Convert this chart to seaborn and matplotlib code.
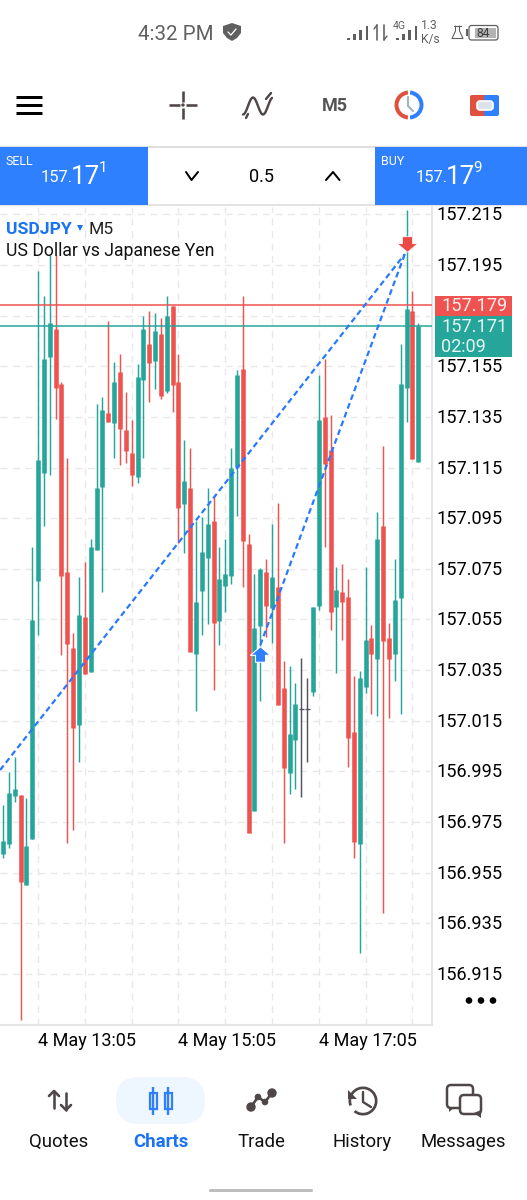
"""
USDJPY M5 candlestick chart, drawn inside a copy of the phone app screen.
"""

import matplotlib

matplotlib.use("Agg")

import matplotlib.pyplot as plt
import numpy as np
import pandas as pd
import seaborn as sns
from matplotlib.patches import Circle, FancyBboxPatch, Polygon, Rectangle, Wedge
from matplotlib.path import Path
from matplotlib.transforms import ScaledTranslation

GREEN = "#26A69A"
RED = "#EF5350"
BLUE = "#2F80FF"
DOJI = "#555560"
GRID = "#E8E8E8"
ICON = "#4F4747"

open_prices = [
    156.9622, 156.9663, 156.9854, 156.9856, 156.9500, 156.9683, 157.0703, 157.1127, 157.1585,
    157.1698, 157.1480, 157.0736, 157.0436, 157.0133, 157.0558, 157.0341, 157.0824, 157.1074,
    157.1367, 157.1325, 157.1527, 157.1298, 157.1206, 157.1114, 157.1495, 157.1637, 157.1572,
    157.1679, 157.1453, 157.1788, 157.1488, 157.1005, 157.1068, 157.0413, 157.0663, 157.0794,
    157.0939, 157.0545, 157.0682, 157.0722, 157.1153, 157.1538, 157.0847, 156.9793, 157.0524,
    157.0736, 157.0594, 157.0677, 157.0278, 156.9945, 157.0074, 157.0196, 157.0196, 157.0265,
    157.0603, 157.1348, 157.1219, 157.0600, 157.0657, 157.0640, 157.0105, 156.9662, 157.0282,
    157.0475, 157.0394, 157.0919, 157.0475, 157.0413, 157.0633, 157.1463, 157.1768, 157.1173,
]
high_prices = [
    156.9817, 156.9947, 157.0008, 156.9856, 156.9846, 157.0837, 157.1927, 157.1829, 157.1990,
    157.1990, 157.1488, 157.1186, 157.0495, 157.0716, 157.0778, 157.0867, 157.1400, 157.1427,
    157.1729, 157.1568, 157.1598, 157.1447, 157.1338, 157.1558, 157.1747, 157.1768, 157.1759,
    157.1739, 157.1829, 157.1789, 157.1598, 157.1258, 157.1227, 157.0940, 157.0956, 157.1068,
    157.1038, 157.0837, 157.0867, 157.1227, 157.1535, 157.1829, 157.0886, 157.0728, 157.0753,
    157.0788, 157.0927, 157.1009, 157.0386, 157.0366, 157.0298, 157.0399, 157.0317, 157.0598,
    157.1517, 157.1578, 157.1357, 157.0756, 157.0769, 157.0709, 157.0327, 157.0346, 157.0756,
    157.0528, 157.0976, 157.1235, 157.0537, 157.0788, 157.1638, 157.2167, 157.1848, 157.1720,
]
low_prices = [
    156.9609, 156.9648, 156.9828, 156.8968, 156.9500, 156.9683, 157.0488, 157.0920, 157.1119,
    157.1341, 157.0409, 156.9668, 156.9718, 156.9988, 157.0333, 157.0341, 157.0824, 157.0660,
    157.1331, 157.1189, 157.1160, 157.1169, 157.1078, 157.1090, 157.1189, 157.1408, 157.1460,
    157.1420, 157.1446, 157.1368, 157.0851, 157.0811, 157.0423, 157.0189, 157.0488, 157.0531,
    157.0271, 157.0449, 157.0578, 157.0689, 157.0960, 157.0679, 156.9705, 156.9793, 157.0229,
    157.0479, 157.0458, 157.0212, 156.9668, 156.9859, 156.9879, 156.9847, 156.9988, 157.0249,
    157.0587, 157.0837, 157.0508, 157.0340, 157.0469, 156.9968, 156.9609, 156.9231, 157.0258,
    157.0176, 157.0169, 156.9389, 157.0159, 157.0308, 157.0176, 157.1331, 157.1183, 157.1173,
]
close_prices = [
    156.9676, 156.9866, 156.9879, 156.9513, 156.9655, 157.0548, 157.1180, 157.1578, 157.1720,
    157.1463, 157.0723, 157.0452, 157.0122, 157.0566, 157.0333, 157.0837, 157.1068, 157.1377,
    157.1331, 157.1488, 157.1303, 157.1215, 157.1120, 157.1508, 157.1698, 157.1564, 157.1688,
    157.1434, 157.1747, 157.1475, 157.0991, 157.1097, 157.0423, 157.0618, 157.0816, 157.0927,
    157.0535, 157.0709, 157.0728, 157.1147, 157.1517, 157.0861, 156.9705, 157.0515, 157.0748,
    157.0603, 157.0716, 157.0212, 156.9964, 157.0096, 157.0215, 157.0196, 157.0196, 157.0598,
    157.1338, 157.1163, 157.0581, 157.0666, 157.0620, 157.0083, 156.9672, 157.0317, 157.0469,
    157.0413, 157.0867, 157.0465, 157.0394, 157.0627, 157.1480, 157.1776, 157.1183, 157.1709,
]

price_ticks = [round(157.215 - 0.02 * k, 3) for k in range(16)]
hidden_tick = 157.175  # sits under the bid and ask boxes
time_grid = [6, 14, 22, 30, 38, 46, 54, 62, 70]
time_labels = {6: "4 May 13:05", 30: "4 May 15:05", 54: "4 May 17:05"}

ask_price = 157.179
bid_price = 157.171

trend_x = [-0.5, 68.7]
trend_y = [156.9955, 157.1993]
trade_x = [44.0, 68.7]
trade_y = [157.0449, 157.1993]
buy_arrow = (44, 157.0415)
sell_arrow = (69, 157.2031)


sns.set_theme(style="white")
plt.rcParams["font.family"] = ["Roboto", "DejaVu Sans"]

fig = plt.figure(figsize=(5.27, 12), dpi=100)
ax = fig.add_axes([0, 1 - 1024.5 / 1200, 432 / 527, (1024.5 - 207) / 1200])

candles = pd.DataFrame(
    {"i": np.arange(len(open_prices)), "open": open_prices, "high": high_prices,
     "low": low_prices, "close": close_prices}
)
candles["dir"] = np.where(
    candles["close"] > candles["open"], "up",
    np.where(candles["close"] < candles["open"], "down", "flat"),
)
palette = {"up": GREEN, "down": RED, "flat": DOJI}

wicks = candles.melt(id_vars=["i", "dir"], value_vars=["high", "low"], value_name="price")
bodies = candles[candles["dir"] != "flat"].melt(
    id_vars=["i", "dir"], value_vars=["open", "close"], value_name="price"
)

sns.lineplot(
    data=wicks, x="i", y="price", hue="dir", units="i", estimator=None, sort=False,
    palette=palette, legend=False, ax=ax, linewidth=1.05, solid_capstyle="butt", zorder=2,
)
sns.lineplot(
    data=bodies, x="i", y="price", hue="dir", units="i", estimator=None, sort=False,
    palette=palette, legend=False, ax=ax, linewidth=3.3, solid_capstyle="butt", zorder=3,
)

# open = close candles only get a short tick
for _, row in candles[candles["dir"] == "flat"].iterrows():
    sns.lineplot(
        x=[row["i"] - 0.42, row["i"] + 0.42], y=[row["open"], row["open"]], color=DOJI,
        ax=ax, linewidth=1.0, estimator=None, sort=False, zorder=3, solid_capstyle="butt",
    )

ax.axhline(ask_price, color=RED, linewidth=1.1, zorder=4)
ax.axhline(bid_price, color=GREEN, linewidth=1.1, zorder=4)

for xs, ys in [(trend_x, trend_y), (trade_x, trade_y)]:
    sns.lineplot(
        x=xs, y=ys, color="#2979FF", ax=ax, linewidth=1.6, linestyle=(0, (2.6, 1.6)),
        estimator=None, sort=False, zorder=5,
    )

up_marker = Path([(0, -0.77), (1, 0.08), (0.5, 0.08), (0.5, 0.77), (-0.5, 0.77), (-0.5, 0.08),
                  (-1, 0.08), (0, -0.77)], closed=True)
down_marker = Path([(0, 0.77), (1, -0.08), (0.5, -0.08), (0.5, -0.77), (-0.5, -0.77),
                    (-0.5, -0.08), (-1, -0.08), (0, 0.77)], closed=True)
# marker paths are y-up, so the arrow pointing up needs the tip at +y
sns.scatterplot(x=[buy_arrow[0]], y=[buy_arrow[1]], marker=down_marker, s=210, color="#2F80FF",
                edgecolor="white", linewidth=0.8, ax=ax, zorder=6, legend=False)
sns.scatterplot(x=[sell_arrow[0]], y=[sell_arrow[1]], marker=up_marker, s=210, color="#EB4A47",
                edgecolor="white", linewidth=0.5, ax=ax, zorder=6, legend=False)

ax.set_xlim(-0.513, 73.35)
ax.set_ylim(156.8950, 157.2179)
ax.set_xlabel("")
ax.set_ylabel("")

ax.yaxis.tick_right()
ax.set_yticks(price_ticks)
ax.set_yticklabels(["" if t == hidden_tick else f"{t:.3f}" for t in price_ticks])
ax.tick_params(axis="y", length=0, pad=3, labelsize=13.1, labelcolor="black")
ax.set_xticks(time_grid)
ax.set_xticklabels([time_labels.get(t, "") for t in time_grid], ha="left")
ax.tick_params(axis="x", length=3, width=1, color=GRID, pad=2.5, labelsize=13, labelcolor="black")
lift = ScaledTranslation(0, 1 / 100, fig.dpi_scale_trans)
for tick_label in ax.get_yticklabels():
    tick_label.set_transform(tick_label.get_transform() + lift)

ax.grid(True, color=GRID, linewidth=1.0, linestyle=(0, (5, 4)))
ax.set_axisbelow(True)
for name in ["top", "left"]:
    ax.spines[name].set_visible(False)
for name in ["right", "bottom"]:
    ax.spines[name].set_color("#E6E6E6")
    ax.spines[name].set_linewidth(1.5)

# screen furniture, laid out in image pixels
ui = fig.add_axes([0, 0, 1, 1], zorder=10)
ui.set_xlim(0, 527)
ui.set_ylim(1200, 0)
ui.axis("off")
ui.patch.set_alpha(0)


def label(x, y, text, size, color="black", weight="normal", ha="left", va="center"):
    # va=center counts the descent, so nudge down to centre the glyphs themselves
    ui.text(x, y + size * 0.06, text, fontsize=size * 0.72, color=color, fontweight=weight, ha=ha, va=va)


def stroke(xs, ys, color=ICON, width=2.0, cap="round"):
    ui.plot(xs, ys, color=color, linewidth=width * 0.72, solid_capstyle=cap, solid_joinstyle="round")


def box(x0, y0, x1, y1, color, **kws):
    ui.add_patch(Rectangle((x0, y0), x1 - x0, y1 - y0, facecolor=color, edgecolor="none", **kws))


def rounded(x0, y0, x1, y1, radius, **kws):
    ui.add_patch(FancyBboxPatch((x0 + radius, y0 + radius), x1 - x0 - 2 * radius,
                                y1 - y0 - 2 * radius,
                                boxstyle=f"round,pad={radius},rounding_size={radius}", **kws))


# status bar
STATUS = "#5F5F5F"
label(138, 33, "4:32 PM", 20.5, STATUS)
ui.add_patch(Polygon([(223, 26), (232, 23), (241, 26), (241, 33), (237, 38), (232, 41), (227, 38),
                      (223, 33)], closed=True, facecolor=STATUS, edgecolor="none"))
stroke([228, 231, 236], [32, 35, 29], "white", 1.3)
for x0, heights in [(347, [2, 6, 10, 14]), (396, [2, 6, 10, 14])]:
    for k, h in enumerate(heights):
        box(x0 + k * 6.2, 40 - h, x0 + k * 6.2 + 2.6, 40, STATUS)
stroke([377, 377], [25, 40], STATUS, 1.6)
stroke([374, 377, 377], [29, 25, 25], STATUS, 1.4)
stroke([384, 384], [25, 40], STATUS, 1.6)
stroke([384, 387], [40, 36], STATUS, 1.4)
label(393, 25.5, "4G", 10.5, STATUS)
label(421, 25, "1.3", 12, STATUS)
label(421, 39, "K/s", 12, STATUS)
stroke([455.5, 455.5, 452, 463, 459.5, 459.5], [26, 31, 38.5, 38.5, 31, 26], STATUS, 1.1)
stroke([454, 461], [26, 26], STATUS, 1.1)
rounded(469, 25.5, 498, 40, 2.5, facecolor="white", edgecolor=STATUS, linewidth=0.9)
box(475, 28, 496, 38, "#B3B3B3")
label(483, 33, "84", 12, "#3D3D3D", ha="center")
box(466, 29, 468, 36, STATUS)

# toolbar
for y in [97, 105, 113]:
    stroke([16, 42], [y, y], "black", 3, "butt")
stroke([169, 180], [105, 105], ICON, 2.6, "butt")
stroke([186, 197], [105, 105], ICON, 2.6, "butt")
stroke([183, 183], [91, 102], ICON, 2.6, "butt")
stroke([183, 183], [108, 119], ICON, 2.6, "butt")
ui.add_patch(Circle((183, 105), 1, color=ICON))
curve_x = np.linspace(243, 272, 40)
stroke(curve_x, 106 - 8.5 * np.sin((curve_x - 248) / 20 * 2 * np.pi), ICON, 2.4)
stroke([246, 248], [118, 114], ICON, 2.4)
stroke([266, 271], [99, 93], ICON, 2.4)
label(334.5, 105, "M5", 18, "#555555", "bold", ha="center")
ui.add_patch(Wedge((409, 105), 14.5, 95, 265, width=4, facecolor="#E0503F", edgecolor="none"))
ui.add_patch(Wedge((409, 105), 14.5, -85, 85, width=4, facecolor=BLUE, edgecolor="none"))
stroke([408, 408, 413], [97, 106, 111], "#A9B4C2", 2.2)
rounded(470, 95, 486, 116, 2, facecolor="#E0503F", edgecolor="none")
rounded(484, 95, 499, 116, 2, facecolor=BLUE, edgecolor="none")
rounded(477, 101, 493, 110, 3, facecolor="#DDE3EA", edgecolor="white", linewidth=1.2)

# trade panel
box(0, 146, 527, 147.5, "#DFDFDF")
box(0, 203.5, 527, 206, "#E3E3E3")
box(0, 147, 148, 205, BLUE)
box(375, 147, 527, 205, BLUE)
for x0, side, frac, big_x, sup_x in [(6, "SELL", "1", 71, 98.5), (381, "BUY", "9", 446, 473.5)]:
    label(x0, 160.5, side, 12.5, "white")
    label(x0 + 35, 177, "157.", 16.5, "white")
    label(big_x, 175, "17", 26, "white")
    label(sup_x, 167, frac, 15, "white")
stroke([186, 191.5, 198], [172, 180, 172], "black", 2)
stroke([326, 333, 339.5], [180, 172, 180], "black", 2)
label(262, 176, "0.5", 18, "black", ha="center")

# chart title
label(6, 228, "USDJPY", 17.5, "#1A73F0", "bold")
ui.add_patch(Polygon([(77, 225), (83, 225), (80, 231)], closed=True, facecolor="#1A73F0", edgecolor="none"))
label(88, 228, "M5", 17.5, "#222222")
label(6, 250, "US Dollar vs Japanese Yen", 17.6, "#111111")

# current price boxes
box(435, 296, 512, 316, RED)
box(435, 316, 512, 357, GREEN)
label(441, 305, "157.179", 18.2, "#FDECEC")
label(441, 326, "157.171", 18.2, "#E5F5F3")
label(441, 346, "02:09", 18.2, "#E5F5F3")

for x in [469, 481, 493]:
    ui.add_patch(Circle((x, 1000.5), 2.6, color="black"))

# bottom navigation
rounded(116, 1077, 205, 1124, 23, facecolor="#EEF6FF", edgecolor="none")
for x, text, color, weight in [(59, "Quotes", "#111111", "normal"), (160.5, "Charts", "#1A73F0", "bold"),
                               (261, "Trade", "#111111", "normal"), (362, "History", "#111111", "normal"),
                               (463, "Messages", "#111111", "normal")]:
    label(x, 1140.5, text, 18.6, color, weight, ha="center")

stroke([54, 54], [1091, 1108], ICON, 2.6)
stroke([49, 54, 59], [1096, 1091, 1096], ICON, 2.6)
stroke([66, 66], [1093, 1110], ICON, 2.6)
stroke([61, 66, 71], [1105, 1110, 1105], ICON, 2.6)

for x in [153, 168]:
    stroke([x, x], [1087, 1115], BLUE, 2.4, "butt")
    ui.add_patch(Rectangle((x - 3.5, 1093), 7, 16, facecolor="#EEF6FF", edgecolor=BLUE, linewidth=1.6))

stroke([251, 258, 265, 272], [1107, 1097, 1102, 1093], ICON, 2.6)
for x, y, r in [(251, 1107, 4), (258, 1097, 2.6), (265, 1102, 2.6), (272, 1093, 4)]:
    ui.add_patch(Circle((x, y), r, color=ICON))

ui.add_patch(Wedge((363, 1101), 14.5, -200, 130, width=2.7, facecolor=ICON, edgecolor="none"))
ui.add_patch(Polygon([(348, 1090), (348, 1099), (357, 1099)], closed=True, facecolor=ICON, edgecolor="none"))
stroke([363, 363, 371], [1092, 1102, 1107], ICON, 2.4)

rounded(447, 1085, 473, 1108, 4, facecolor="none", edgecolor=ICON, linewidth=1.8)
ui.add_patch(Polygon([(449, 1107), (449, 1112), (455, 1107)], closed=True, facecolor=ICON, edgecolor="none"))
rounded(460, 1095, 481, 1114, 4, facecolor="white", edgecolor=ICON, linewidth=1.8)
ui.add_patch(Polygon([(474, 1113), (481, 1118), (481, 1110)], closed=True, facecolor=ICON, edgecolor="none"))

rounded(209, 1189, 313, 1192, 1.4, facecolor="#BDBDBD", edgecolor="none")

fig.savefig("out.png", dpi=100, facecolor="white")
